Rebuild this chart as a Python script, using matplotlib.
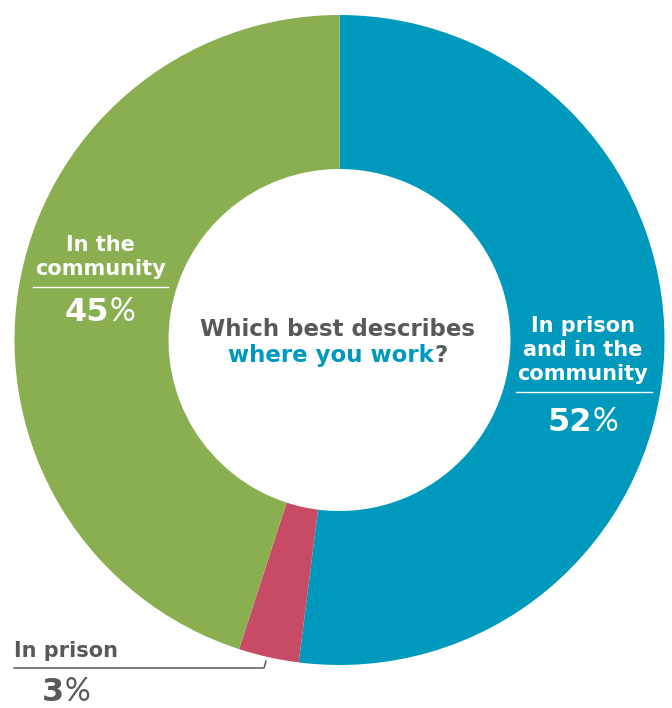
import matplotlib
matplotlib.use("Agg")
import matplotlib.pyplot as plt
from matplotlib.lines import Line2D

# Survey answers: "Which best describes where you work?"
categories = ["In prison and in the community", "In prison", "In the community"]
shares = [52, 3, 45]
colors = ["#0099be", "#c84b66", "#8aaf50"]

GRAY = "#58595b"
BLUE = "#0099be"
W, H = 672, 708

fig = plt.figure(figsize=(W / 100, H / 100), dpi=100)
ax = fig.add_axes([0, 0, 1, 1])


def Y(py):
    return H - py


cx, cy, R, ring = 339.5, Y(340), 325, 154
ax.pie(shares, colors=colors, startangle=90, counterclock=False,
       radius=R, center=(cx, cy), frame=True,
       wedgeprops=dict(width=ring, linewidth=0))
ax.set_xlim(0, W)
ax.set_ylim(0, H)
ax.set_aspect("equal")
ax.axis("off")

BOLD = dict(family="DejaVu Sans", fontweight="bold")
THIN = dict(family="Lato", fontweight="normal")
renderer = fig.canvas.get_renderer()


def run(x, py, parts, size, align="center"):
    """Draw several differently styled pieces on one baseline."""
    texts = []
    for s, color, style in parts:
        t = ax.text(0, Y(py), s, ha="left", va="baseline", color=color,
                    fontsize=size, **style)
        texts.append(t)
    widths = [t.get_window_extent(renderer).width for t in texts]
    total = sum(widths)
    start = x - total / 2 if align == "center" else x
    for t, w in zip(texts, widths):
        t.set_x(start)
        start += w
    return texts


def pct(x, py, value, color, size=23):
    run(x, py, [(f"{value}", color, BOLD), ("%", color, THIN)], size)


# Centre question
run(338, 336, [("Which best describes", GRAY, BOLD)], 16.5)
run(338, 362, [("where you work", BLUE, BOLD), ("?", GRAY, BOLD)], 16.5)

# Left label: In the community
run(100, 251, [("In the", "white", BOLD)], 15)
run(100, 275, [("community", "white", BOLD)], 15)
ax.add_line(Line2D([33, 168], [Y(286.5), Y(286.5)], color="white", lw=1))
pct(100, 321, shares[2], "white")

# Right label: In prison and in the community
run(583, 332, [("In prison", "white", BOLD)], 15)
run(583, 356, [("and in the", "white", BOLD)], 15)
run(583, 380, [("community", "white", BOLD)], 15)
ax.add_line(Line2D([516, 652], [Y(392), Y(392)], color="white", lw=1))
pct(583, 431, shares[0], "white")

# Bottom-left callout: In prison
run(14, 657, [("In prison", GRAY, BOLD)], 15, align="left")
ax.add_line(Line2D([14, 264, 266], [Y(668), Y(668), Y(661)],
                   color=GRAY, lw=1.1))
pct(66, 701, shares[1], GRAY)

fig.savefig("out.png", dpi=100, facecolor="white")
